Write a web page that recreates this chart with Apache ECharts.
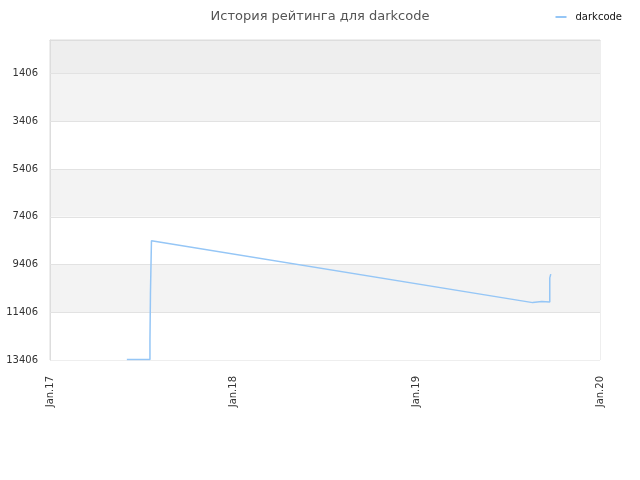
<!DOCTYPE html>
<html>
<head>
<meta charset="utf-8">
<script src="https://cdn.jsdelivr.net/npm/echarts@6/dist/echarts.min.js"></script>
<style>html,body{margin:0;padding:0;background:#fff}#c{width:640px;height:480px}</style>
</head>
<body>
<div id="c"></div>
<script>
var titleText = 'История рейтинга для darkcode';
var seriesName = 'darkcode';
var dates = ['2017-06-03','2017-07-19','2017-07-19','2017-07-20','2017-07-22','2017-07-25','2019-08-20','2019-09-07','2019-09-23','2019-09-23','2019-09-25'];
var ranks = [13390,13390,12567,10595,8413,8392,11002,10960,10975,9965,9810];
var yTicks = [1406,3406,5406,7406,9406,11406,13406];
var xTickYears = [2017,2018,2019,2020];

function ts(s){ var p = s.split('-'); return new Date(+p[0], +p[1]-1, +p[2]).getTime(); }
var chart = echarts.init(document.getElementById('c'));
var data = dates.map(function(d,i){ return [ts(d), ranks[i]]; });
var xTicks = xTickYears.map(function(y){ return new Date(y,0,1).getTime(); });
var bandEdges = [0].concat(yTicks);
var bandColors = ['#eeeeee','#f3f3f3','#ffffff','#f3f3f3','#ffffff','#f3f3f3','#ffffff'];
var bands = [];
for (var i=0;i<bandEdges.length-1;i++){
  bands.push([{yAxis: bandEdges[i], itemStyle:{color: bandColors[i]}},{yAxis: bandEdges[i+1]}]);
}
var lines = yTicks.slice(0, yTicks.length-1).map(function(v){ return {yAxis: v}; });

chart.setOption({
  animation: false,
  title: {
    text: titleText, left: 'center', top: 5,
    textStyle: {fontFamily: 'DejaVu Sans', fontSize: 13, fontWeight: 'normal', color: '#555555'}
  },
  legend: {
    right: 13, top: 7, itemWidth: 11, itemHeight: 2, icon: 'rect',
    textStyle: {fontFamily: 'DejaVu Sans', fontSize: 10, color: '#111111', padding: [0,0,0,4]},
    data: [seriesName]
  },
  grid: {left: 50, right: 40, top: 40, bottom: 120, show: true, borderColor: '#dddddd', borderWidth: 1, backgroundColor: 'transparent'},
  xAxis: {
    type: 'value',
    min: xTicks[0], max: xTicks[xTicks.length-1],
    axisLine: {show: true, lineStyle: {color: '#dddddd'}},
    axisTick: {show: false},
    splitLine: {show: false},
    axisLabel: {
      customValues: xTicks,
      rotate: 90, margin: 16,
      fontFamily: 'DejaVu Sans', fontSize: 10, color: '#333333',
      formatter: function(v){ var d = new Date(v); return 'Jan.' + String(d.getFullYear()%100).padStart(2,'0'); }
    }
  },
  yAxis: {
    type: 'value', inverse: true, min: 0, max: yTicks[yTicks.length-1],
    axisLine: {show: true, lineStyle: {color: '#dddddd'}},
    axisTick: {show: false},
    splitLine: {show: false},
    axisLabel: {
      customValues: yTicks,
      margin: 12, fontFamily: 'DejaVu Sans', fontSize: 10, color: '#333333',
      padding: [4,0,0,0],
      formatter: function(v){ return String(v); }
    }
  },
  series: [{
    name: seriesName, type: 'line', data: data, symbol: 'none',
    lineStyle: {color: '#95c6f6', width: 1.5},
    itemStyle: {color: '#95c6f6'},
    z: 5,
    markArea: {silent: true, data: bands, z: 0},
    markLine: {silent: true, symbol: 'none', label: {show: false}, lineStyle: {color: '#e2e2e2', type: 'solid', width: 1}, data: lines}
  }]
});
</script>
</body>
</html>
